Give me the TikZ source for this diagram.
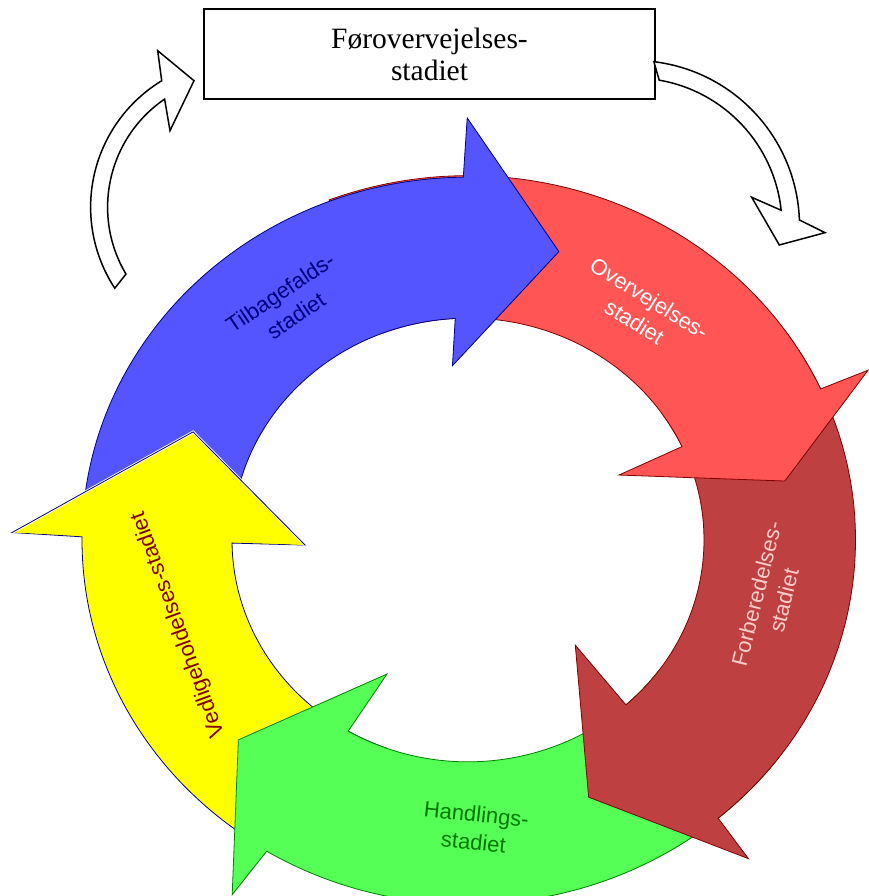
\documentclass[tikz,border=0pt]{standalone}
\usepackage{fontspec}
\setmainfont{Liberation Serif}
\setsansfont{Liberation Sans}
\definecolor{bluefill}{RGB}{85,85,255}
\definecolor{bluestroke}{RGB}{0,0,128}
\definecolor{redfill}{RGB}{255,85,85}
\definecolor{redstroke}{RGB}{128,0,0}
\definecolor{brownfill}{RGB}{190,64,64}
\definecolor{greenfill}{RGB}{85,255,85}
\definecolor{greenstroke}{RGB}{0,128,0}
\definecolor{yellowfill}{RGB}{255,255,0}
\definecolor{pinktext}{RGB}{250,205,205}
\definecolor{greentext}{RGB}{0,120,0}
\newcommand{\ringarrow}[8]{%
  \path[#1] (#2:#8) arc[start angle=#2,end angle=#3,radius=#8] -- (#4) -- (#5) -- (#6)
    -- (#7:236) arc[start angle=#7,end angle=#2,radius=236] -- cycle;}
\begin{document}
\begin{tikzpicture}[x=1pt,y=1pt,
  ringline/.style={line width=0.8pt,line join=miter},
  whitearrow/.style={draw=black,fill=white,line width=1.5pt,line join=miter},
  lbl/.style={font=\sffamily\fontsize{22}{28}\selectfont,align=center,inner sep=0pt}]
\useasboundingbox (0,0) rectangle (869,896);
\fill[white] (0,0) rectangle (869,896);

% stage box
\node[draw=black,line width=1.5pt,minimum width=451pt,minimum height=90pt,inner sep=0pt,
  align=center,font=\fontsize{29.5}{32}\selectfont] (box) at (429.5,842) {Førovervejelses-\\stadiet};

% left white arrow
\begin{scope}[shift={(238.6,688.8)}]
  \path[whitearrow] (213.2:148) arc[start angle=213.2,end angle=121.3,radius=148]
    -- (-80.9,156.5) -- (-44.6,126.5) -- (-68.6,76.5)
    -- (124.4:131) arc[start angle=124.4,end angle=210.7,radius=131] -- cycle;
\end{scope}
% right white arrow
\begin{scope}[shift={(634,670)}]
  \path[whitearrow] (83.1:165.5) arc[start angle=83.1,end angle=2.1,radius=165.5]
    -- (191,-6.7) -- (145.3,-19) -- (117.7,28.7)
    -- (6.1:148) arc[start angle=6.1,end angle=80.2,radius=148] -- cycle;
\end{scope}

% ring of arrows
\begin{scope}[shift={(468,356)},yscale=0.94]
  % yellow
  \ringarrow{ringline,fill=yellowfill,draw=bluestroke}{250}{179.5}{179:456}{157.3:298}{181.9:163}{180.8}{386}
  % green
  \ringarrow{ringline,fill=greenfill,draw=greenstroke}{-36}{-121.3}{-122:445}{-137.2:313}{-119.6:164}{-120.5}{387.5}
  % brown
  \ringarrow{ringline,fill=brownfill,draw=redstroke}{35}{-49.8}{-50.4:440}{-66.2:299}{-46.2:155}{-48}{387.5}
  % red
  \ringarrow{ringline,fill=redfill,draw=redstroke}{111}{24.5}{24.3:439}{11.2:323}{24.6:166}{24.9}{387.5}
  % blue
  \ringarrow{ringline,fill=bluefill,draw=bluestroke}{175}{90.7}{90.1:449}{73.5:320}{94.8:186}{93.1}{386}
  % yellow head over the tail of the blue arrow
  \fill[yellowfill] (179:456) -- (157.3:298) -- (181.9:163) -- cycle;
  \draw[white,line width=2.6pt,line join=miter] (179:456) -- (157.3:298) -- (181.9:163);
  \draw[ringline,bluestroke] (179:456) -- (157.3:298) -- (181.9:163);
\end{scope}

% labels
\node[lbl,text=bluestroke,rotate=34] (ltil) at (288,592) {Tilbagefalds-\\stadiet};
\node[lbl,text=white,rotate=-32] (lover) at (642,586) {Overvejelses-\\stadiet};
\node[lbl,text=pinktext,rotate=76] (lfor) at (770,299) {Forberedelses-\\stadiet};
\node[lbl,text=greentext,rotate=-6] (lhand) at (475,68) {Handlings-\\stadiet};
\node[lbl,text=redstroke,rotate=110] (lved) at (178.5,271.5) {Vedligeholdelses-stadiet};
\end{tikzpicture}
\end{document}
